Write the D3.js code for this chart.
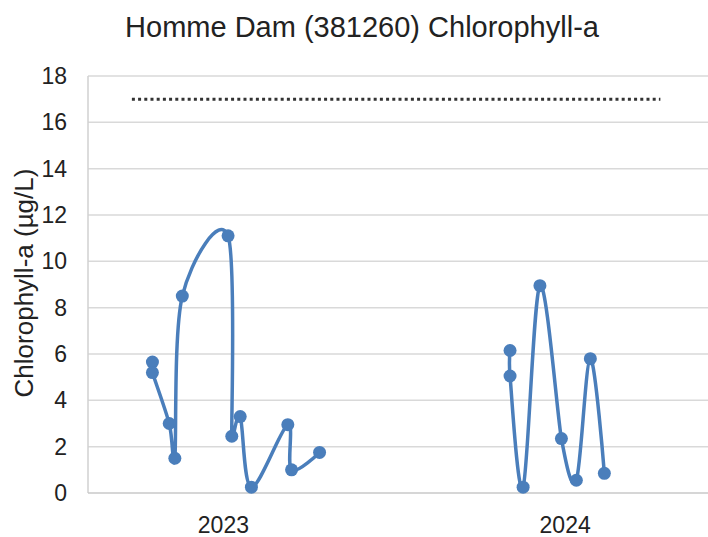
<!DOCTYPE html>
<html>
<head>
<meta charset="utf-8">
<script src="https://cdn.jsdelivr.net/npm/d3@7"></script>
<style>
  body { margin: 0; background: #fff; }
  svg { display: block; font-family: "Liberation Sans", Arial, sans-serif; }
</style>
</head>
<body>
<div class="chart"></div>
<script>
var width = 708,
    height = 537,
    margin = {top: 76, right: 0, bottom: 44, left: 88};

// sample dates and chlorophyll-a values, one pair of arrays per season
var dates2023 = ["2023-04-16", "2023-04-16", "2023-05-04", "2023-05-10", "2023-05-18", "2023-07-06",
                 "2023-07-10", "2023-07-19", "2023-07-31", "2023-09-08", "2023-09-12", "2023-10-12"];
var values2023 = [5.65, 5.2, 3.0, 1.5, 8.5, 11.1, 2.45, 3.3, 0.25, 2.95, 1.0, 1.75];

var dates2024 = ["2024-05-03", "2024-05-03", "2024-05-17", "2024-06-04", "2024-06-27", "2024-07-13",
                 "2024-07-28", "2024-08-12"];
var values2024 = [6.15, 5.05, 0.25, 8.95, 2.35, 0.55, 5.8, 0.85];

// reference line
var limitDates = ["2023-03-25", "2024-10-11"];
var limitValue = 17;

var yearLabels = ["2023", "2024"];
var yearLabelDates = ["2023-07-01", "2024-07-01"];
var yTicks = [0, 2, 4, 6, 8, 10, 12, 14, 16, 18];

var parse = d3.timeParse("%Y-%m-%d");

var x = d3.scaleTime()
    .domain([parse("2023-02-06"), parse("2024-12-01")])
    .range([margin.left, width - margin.right]);

var y = d3.scaleLinear()
    .domain([0, 18])
    .range([height - margin.bottom, margin.top]);

var svg = d3.select(".chart").append("svg")
    .attr("width", width)
    .attr("height", height);

// gridlines
svg.append("g")
    .selectAll("line")
    .data(yTicks.slice(1))
    .enter().append("line")
    .attr("x1", margin.left)
    .attr("x2", width)
    .attr("y1", function(d) { return y(d); })
    .attr("y2", function(d) { return y(d); })
    .attr("stroke", "#d9d9d9")
    .attr("stroke-width", 1.5);

// axes lines
svg.append("line")
    .attr("x1", margin.left).attr("x2", margin.left)
    .attr("y1", y(18)).attr("y2", y(0))
    .attr("stroke", "#d0d0d0")
    .attr("stroke-width", 1.5);
svg.append("line")
    .attr("x1", margin.left).attr("x2", width)
    .attr("y1", y(0)).attr("y2", y(0))
    .attr("stroke", "#c8c8c8")
    .attr("stroke-width", 1.5);

// y tick labels
svg.append("g")
    .selectAll("text")
    .data(yTicks)
    .enter().append("text")
    .attr("x", 67)
    .attr("y", function(d) { return y(d) + 8; })
    .attr("text-anchor", "end")
    .style("font-size", "23px")
    .style("fill", "#222")
    .text(function(d) { return d; });

// x labels
svg.append("g")
    .selectAll("text")
    .data(yearLabels)
    .enter().append("text")
    .attr("x", function(d, i) { return x(parse(yearLabelDates[i])); })
    .attr("y", 533)
    .attr("text-anchor", "middle")
    .style("font-size", "23px")
    .style("fill", "#222")
    .text(function(d) { return d; });

// title
svg.append("text")
    .attr("x", 362)
    .attr("y", 37)
    .attr("text-anchor", "middle")
    .style("font-size", "29px")
    .style("fill", "#222")
    .text("Homme Dam (381260) Chlorophyll-a");

svg.append("text")
    .attr("transform", "translate(33," + 283 + ") rotate(-90)")
    .attr("text-anchor", "middle")
    .style("font-size", "26px")
    .style("fill", "#222")
    .text("Chlorophyll-a (µg/L)");

// limit line
svg.append("line")
    .attr("x1", x(parse(limitDates[0])))
    .attr("x2", x(parse(limitDates[1])))
    .attr("y1", y(limitValue))
    .attr("y2", y(limitValue))
    .attr("stroke", "#333")
    .attr("stroke-width", 3)
    .attr("stroke-dasharray", "3,3.2");

// spreadsheet-style smoothing: bezier handles of 1/6 the neighbour span,
// but never longer than half of either adjacent segment
function smoothPath(pts) {
    var n = pts.length, tan = [];
    for (var i = 0; i < n; i++) {
        var p0 = pts[Math.max(i - 1, 0)], p1 = pts[i], p2 = pts[Math.min(i + 1, n - 1)];
        var d02 = Math.hypot(p2[0] - p0[0], p2[1] - p0[1]),
            d01 = Math.hypot(p1[0] - p0[0], p1[1] - p0[1]),
            d12 = Math.hypot(p2[0] - p1[0], p2[1] - p1[1]);
        var len = Math.min(d02 / 6, d01 / 2, d12 / 2);
        var f = d02 > 0 ? len / d02 : 0;
        tan.push([(p2[0] - p0[0]) * f, (p2[1] - p0[1]) * f]);
    }
    var p = d3.path();
    p.moveTo(pts[0][0], pts[0][1]);
    for (var j = 0; j < n - 1; j++) {
        p.bezierCurveTo(pts[j][0] + tan[j][0], pts[j][1] + tan[j][1],
                        pts[j + 1][0] - tan[j + 1][0], pts[j + 1][1] - tan[j + 1][1],
                        pts[j + 1][0], pts[j + 1][1]);
    }
    return p.toString();
}

var seasons = [[dates2023, values2023], [dates2024, values2024]].map(function(s) {
    return s[0].map(function(dt, i) { return {date: parse(dt), value: s[1][i]}; });
});

seasons.forEach(function(data) {
    svg.append("path")
        .attr("fill", "none")
        .attr("stroke", "#4a7ebb")
        .attr("stroke-width", 3.5)
        .attr("d", smoothPath(data.map(function(d) { return [x(d.date), y(d.value)]; })));

    svg.selectAll(null)
        .data(data)
        .enter().append("circle")
        .attr("cx", function(d) { return x(d.date); })
        .attr("cy", function(d) { return y(d.value); })
        .attr("r", 6.5)
        .attr("fill", "#4a7ebb");
});
</script>
</body>
</html>
